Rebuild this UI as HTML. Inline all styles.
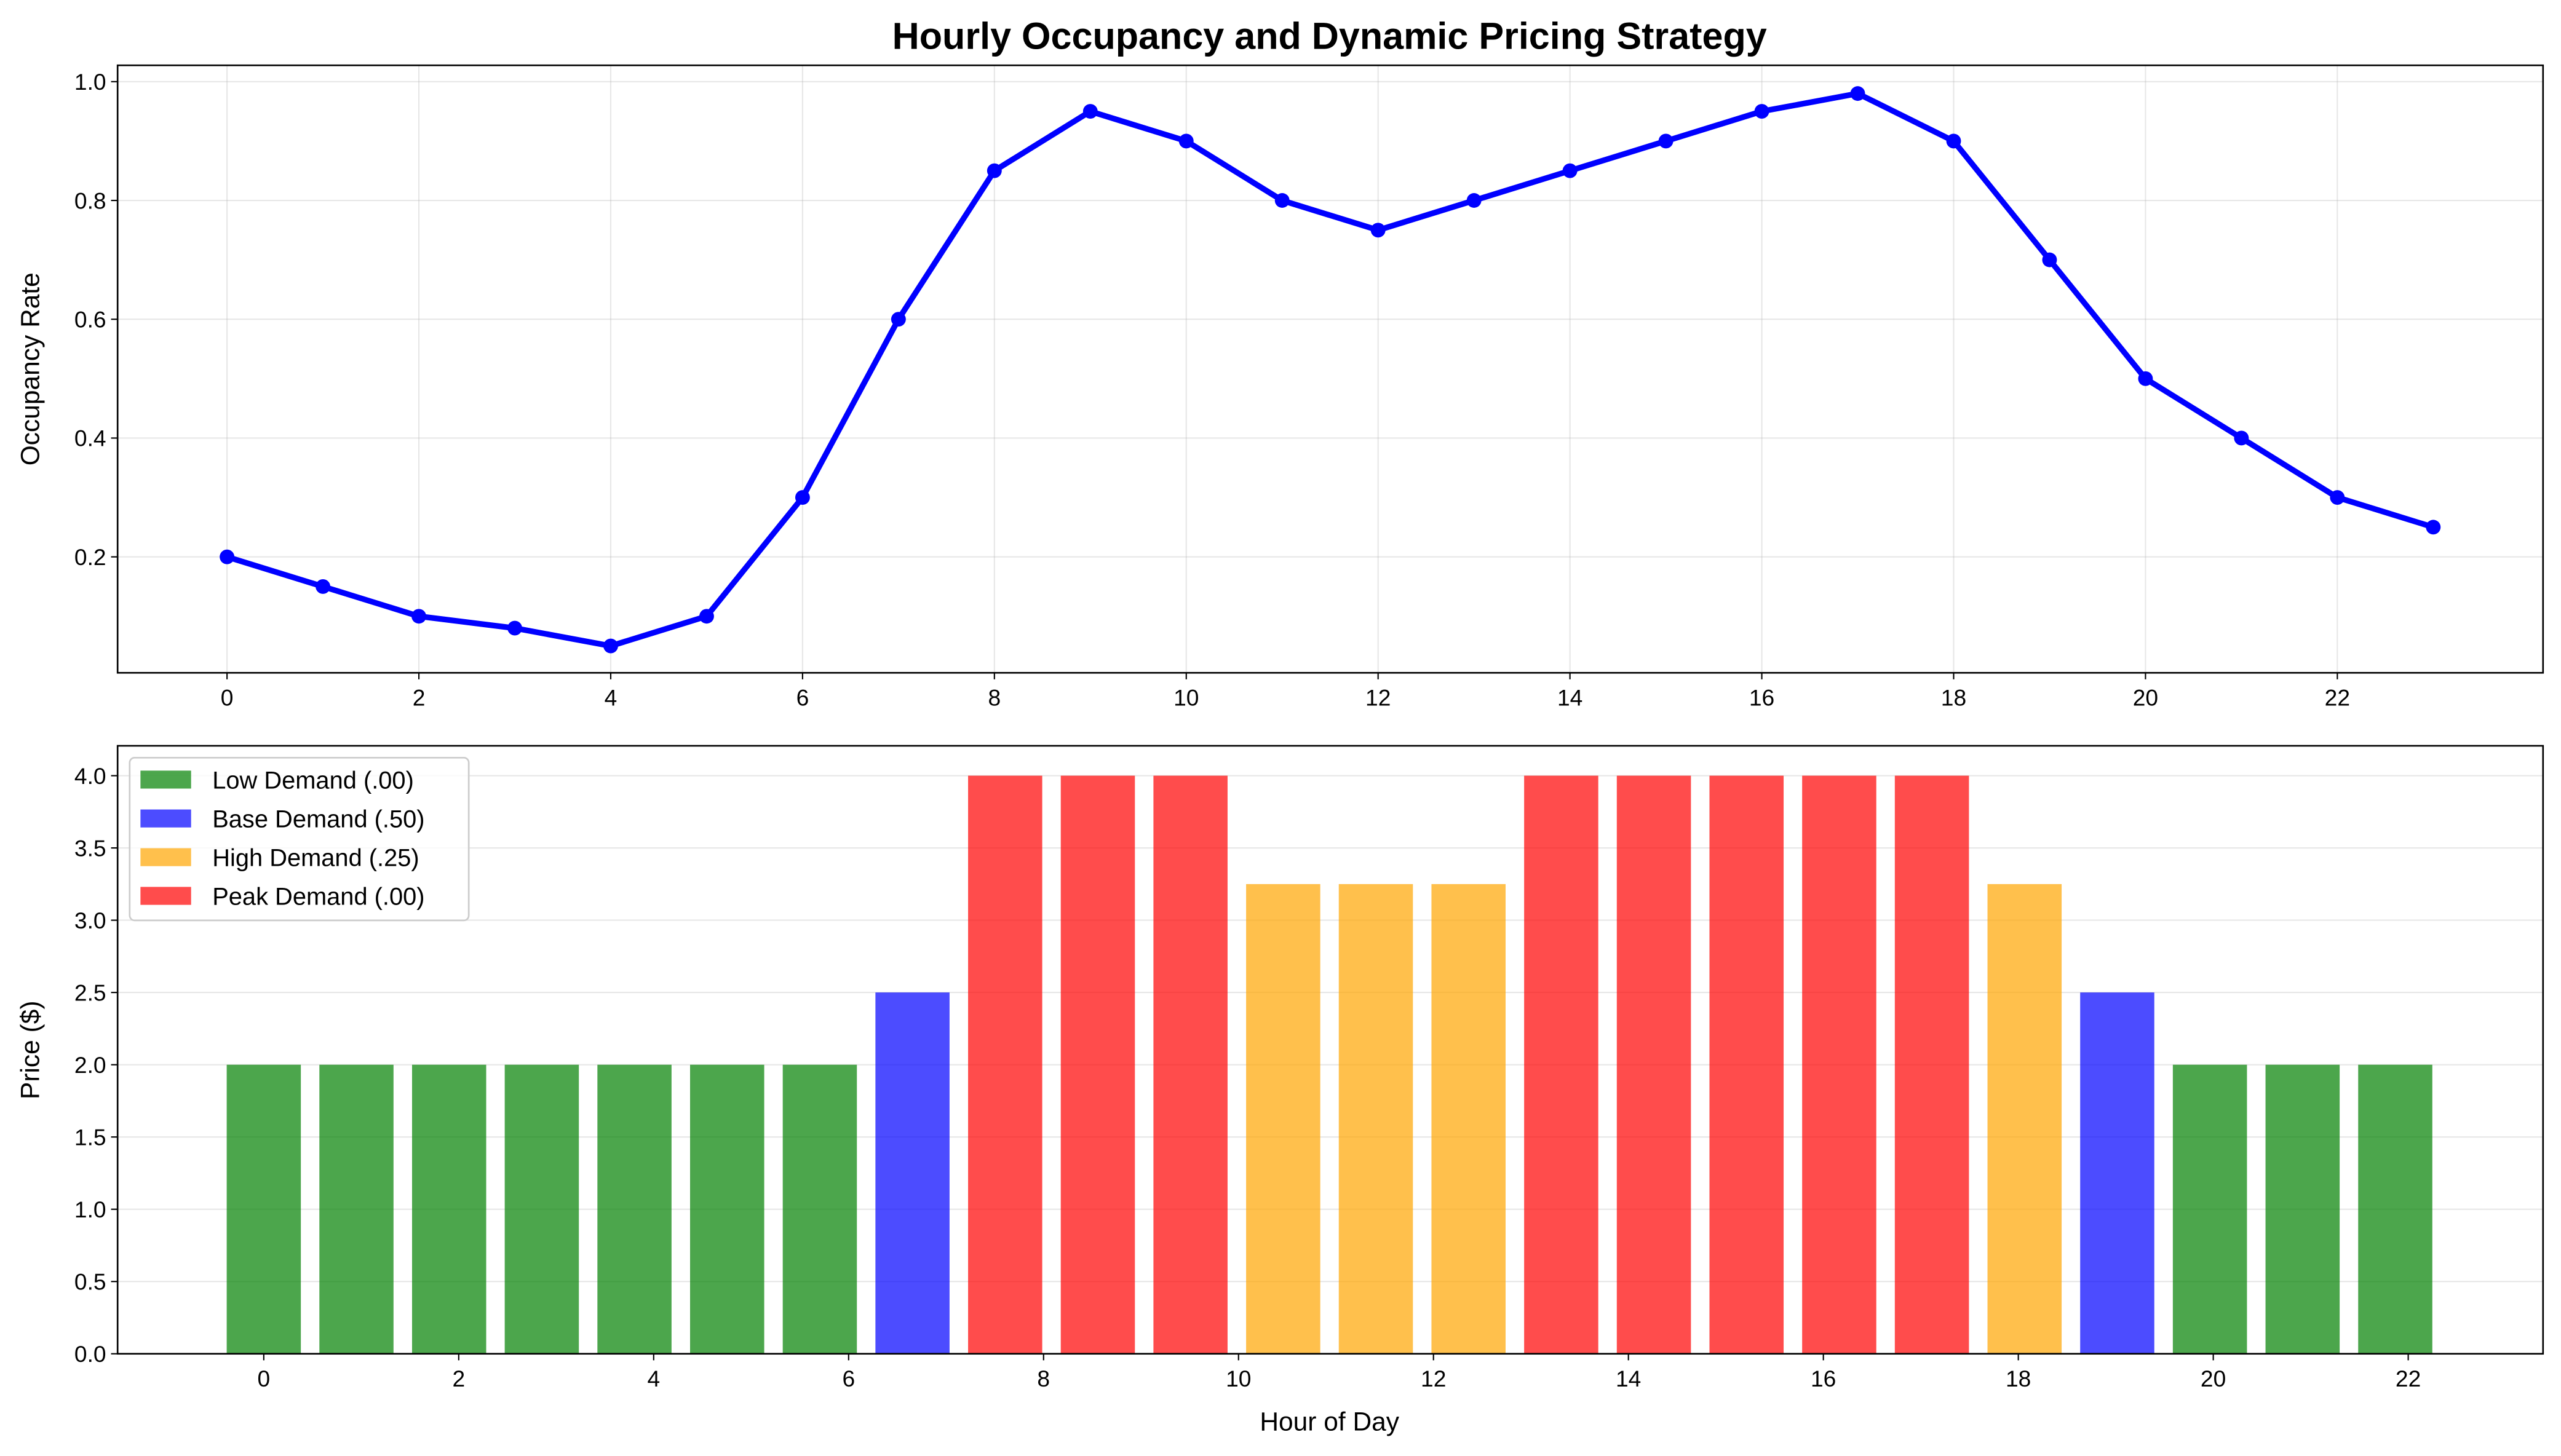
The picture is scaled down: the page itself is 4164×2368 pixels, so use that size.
<!DOCTYPE html>
<html><head><meta charset="utf-8"><style>html,body{margin:0;padding:0;background:#fff}svg{display:block}text{font-family:"Liberation Sans","DejaVu Sans",sans-serif;fill:#000}</style></head>
<body>
<svg id="chart" width="4164" height="2368" viewBox="0 0 1568 891.6" preserveAspectRatio="none" xmlns="http://www.w3.org/2000/svg">
<rect width="1568" height="891.6" fill="#fff"/>
<text x="814" y="30" text-anchor="middle" font-size="23" font-weight="bold">Hourly Occupancy and Dynamic Pricing Strategy</text>
<g id="topAxes"></g><g id="bottomAxes"></g>
</svg>
<script>
const hours=[0,1,2,3,4,5,6,7,8,9,10,11,12,13,14,15,16,17,18,19,20,21,22,23];
const occupancy=[0.2,0.15,0.1,0.08,0.05,0.1,0.3,0.6,0.85,0.95,0.9,0.8,0.75,0.8,0.85,0.9,0.95,0.98,0.9,0.7,0.5,0.4,0.3,0.25];
const prices=[2,2,2,2,2,2,2,2.5,4,4,4,3.25,3.25,3.25,4,4,4,4,4,3.25,2.5,2,2,2];
const tiers=["low","low","low","low","low","low","low","base","peak","peak","peak","high","high","high","peak","peak","peak","peak","peak","high","base","low","low","low"];
const xTicks=[0,2,4,6,8,10,12,14,16,18,20,22];
const occTicks=[0.2,0.4,0.6,0.8,1.0];
const priceTicks=[0,0.5,1,1.5,2,2.5,3,3.5,4];
const legendLabels=["Low Demand (.00)","Base Demand (.50)","High Demand (.25)","Peak Demand (.00)"];
const legendKeys=["low","base","high","peak"];
const colors={low:"#008000",base:"#0000ff",high:"#ffa500",peak:"#ff0000"};
const NS="http://www.w3.org/2000/svg";
function mk(p,t,a){const e=document.createElementNS(NS,t);for(const k in a)e.setAttribute(k,a[k]);p.appendChild(e);return e;}
const topG=document.getElementById('topAxes'),botG=document.getElementById('bottomAxes');
const T={l:72,r:1557,t:40,b:412};
const tx=h=>139+h*58.73, ty=v=>413.75-363.75*v;
for(const t of xTicks){const g=mk(topG,'line',{x1:tx(t),x2:tx(t),y1:T.t,y2:T.b,stroke:'#b0b0b0','stroke-opacity':0.3,'stroke-width':0.8});

const tk=mk(topG,'line',{x1:tx(t),x2:tx(t),y1:T.b,y2:T.b+4,stroke:'#000','stroke-width':0.8});

const lb=mk(topG,'text',{x:tx(t),y:T.b+20,'text-anchor':'middle','font-size':14});lb.textContent=t;
}
for(const v of occTicks){const g=mk(topG,'line',{x1:T.l,x2:T.r,y1:ty(v),y2:ty(v),stroke:'#b0b0b0','stroke-opacity':0.3,'stroke-width':0.8});

const tk=mk(topG,'line',{x1:T.l-4,x2:T.l,y1:ty(v),y2:ty(v),stroke:'#000','stroke-width':0.8});

const lb=mk(topG,'text',{x:T.l-7,y:ty(v)+5,'text-anchor':'end','font-size':14});lb.textContent=v.toFixed(1);
}
const line=mk(topG,'polyline',{points:hours.map((h,i)=>tx(h)+','+ty(occupancy[i])).join(' '),fill:'none',stroke:'#0000ff','stroke-width':3.5,'stroke-linejoin':'round'});

hours.forEach((h,i)=>{const c=mk(topG,'circle',{cx:tx(h),cy:ty(occupancy[i]),r:4.5,fill:'#0000ff'});
});
const tf=mk(topG,'rect',{x:T.l,y:T.t,width:T.r-T.l,height:T.b-T.t,fill:'none',stroke:'#000','stroke-width':1});

const tyl=mk(topG,'text',{x:24,y:226,'text-anchor':'middle','font-size':16,transform:'rotate(-90 24 226)'});tyl.textContent='Occupancy Rate';

const B={l:72,r:1557,t:456.7,b:829};
const bxTick=h=>161.5+h*59.68, bxBar=h=>161.5+h*56.74, barW=0.8*56.74, by=v=>829-88.5*v;
for(const v of priceTicks){const g=mk(botG,'line',{x1:B.l,x2:B.r,y1:by(v),y2:by(v),stroke:'#b0b0b0','stroke-opacity':0.3,'stroke-width':0.8});

const tk=mk(botG,'line',{x1:B.l-4,x2:B.l,y1:by(v),y2:by(v),stroke:'#000','stroke-width':0.8});

const lb=mk(botG,'text',{x:B.l-7,y:by(v)+5,'text-anchor':'end','font-size':14});lb.textContent=v.toFixed(1);
}
hours.forEach((h,i)=>{const r=mk(botG,'rect',{x:bxBar(h)-barW/2,y:by(prices[i]),width:barW,height:by(0)-by(prices[i]),fill:colors[tiers[i]],'fill-opacity':0.7});
});
for(const t of xTicks){const tk=mk(botG,'line',{x1:bxTick(t),x2:bxTick(t),y1:B.b,y2:B.b+4,stroke:'#000','stroke-width':0.8});

const lb=mk(botG,'text',{x:bxTick(t),y:B.b+20,'text-anchor':'middle','font-size':14});lb.textContent=t;
}
const bf=mk(botG,'rect',{x:B.l,y:B.t,width:B.r-B.l,height:B.b-B.t,fill:'none',stroke:'#000','stroke-width':1});

const byl=mk(botG,'text',{x:24,y:643,'text-anchor':'middle','font-size':16,transform:'rotate(-90 24 643)'});byl.textContent='Price ($)';

const bxl=mk(botG,'text',{x:814,y:876,'text-anchor':'middle','font-size':16});bxl.textContent='Hour of Day';

const lg=mk(botG,'rect',{x:79.4,y:464,width:207.6,height:99.6,rx:3,fill:'#fff','fill-opacity':0.8,stroke:'#cccccc','stroke-width':1});

const rowsY=[477.4,501.2,524.9,548.6];
legendLabels.forEach((s,i)=>{const sw=mk(botG,'rect',{x:86,y:rowsY[i]-5.5,width:31,height:11,fill:colors[legendKeys[i]],'fill-opacity':0.7});

const t=mk(botG,'text',{x:130,y:rowsY[i]+5.5,'font-size':15});t.textContent=s;
});
</script>
</body></html>
